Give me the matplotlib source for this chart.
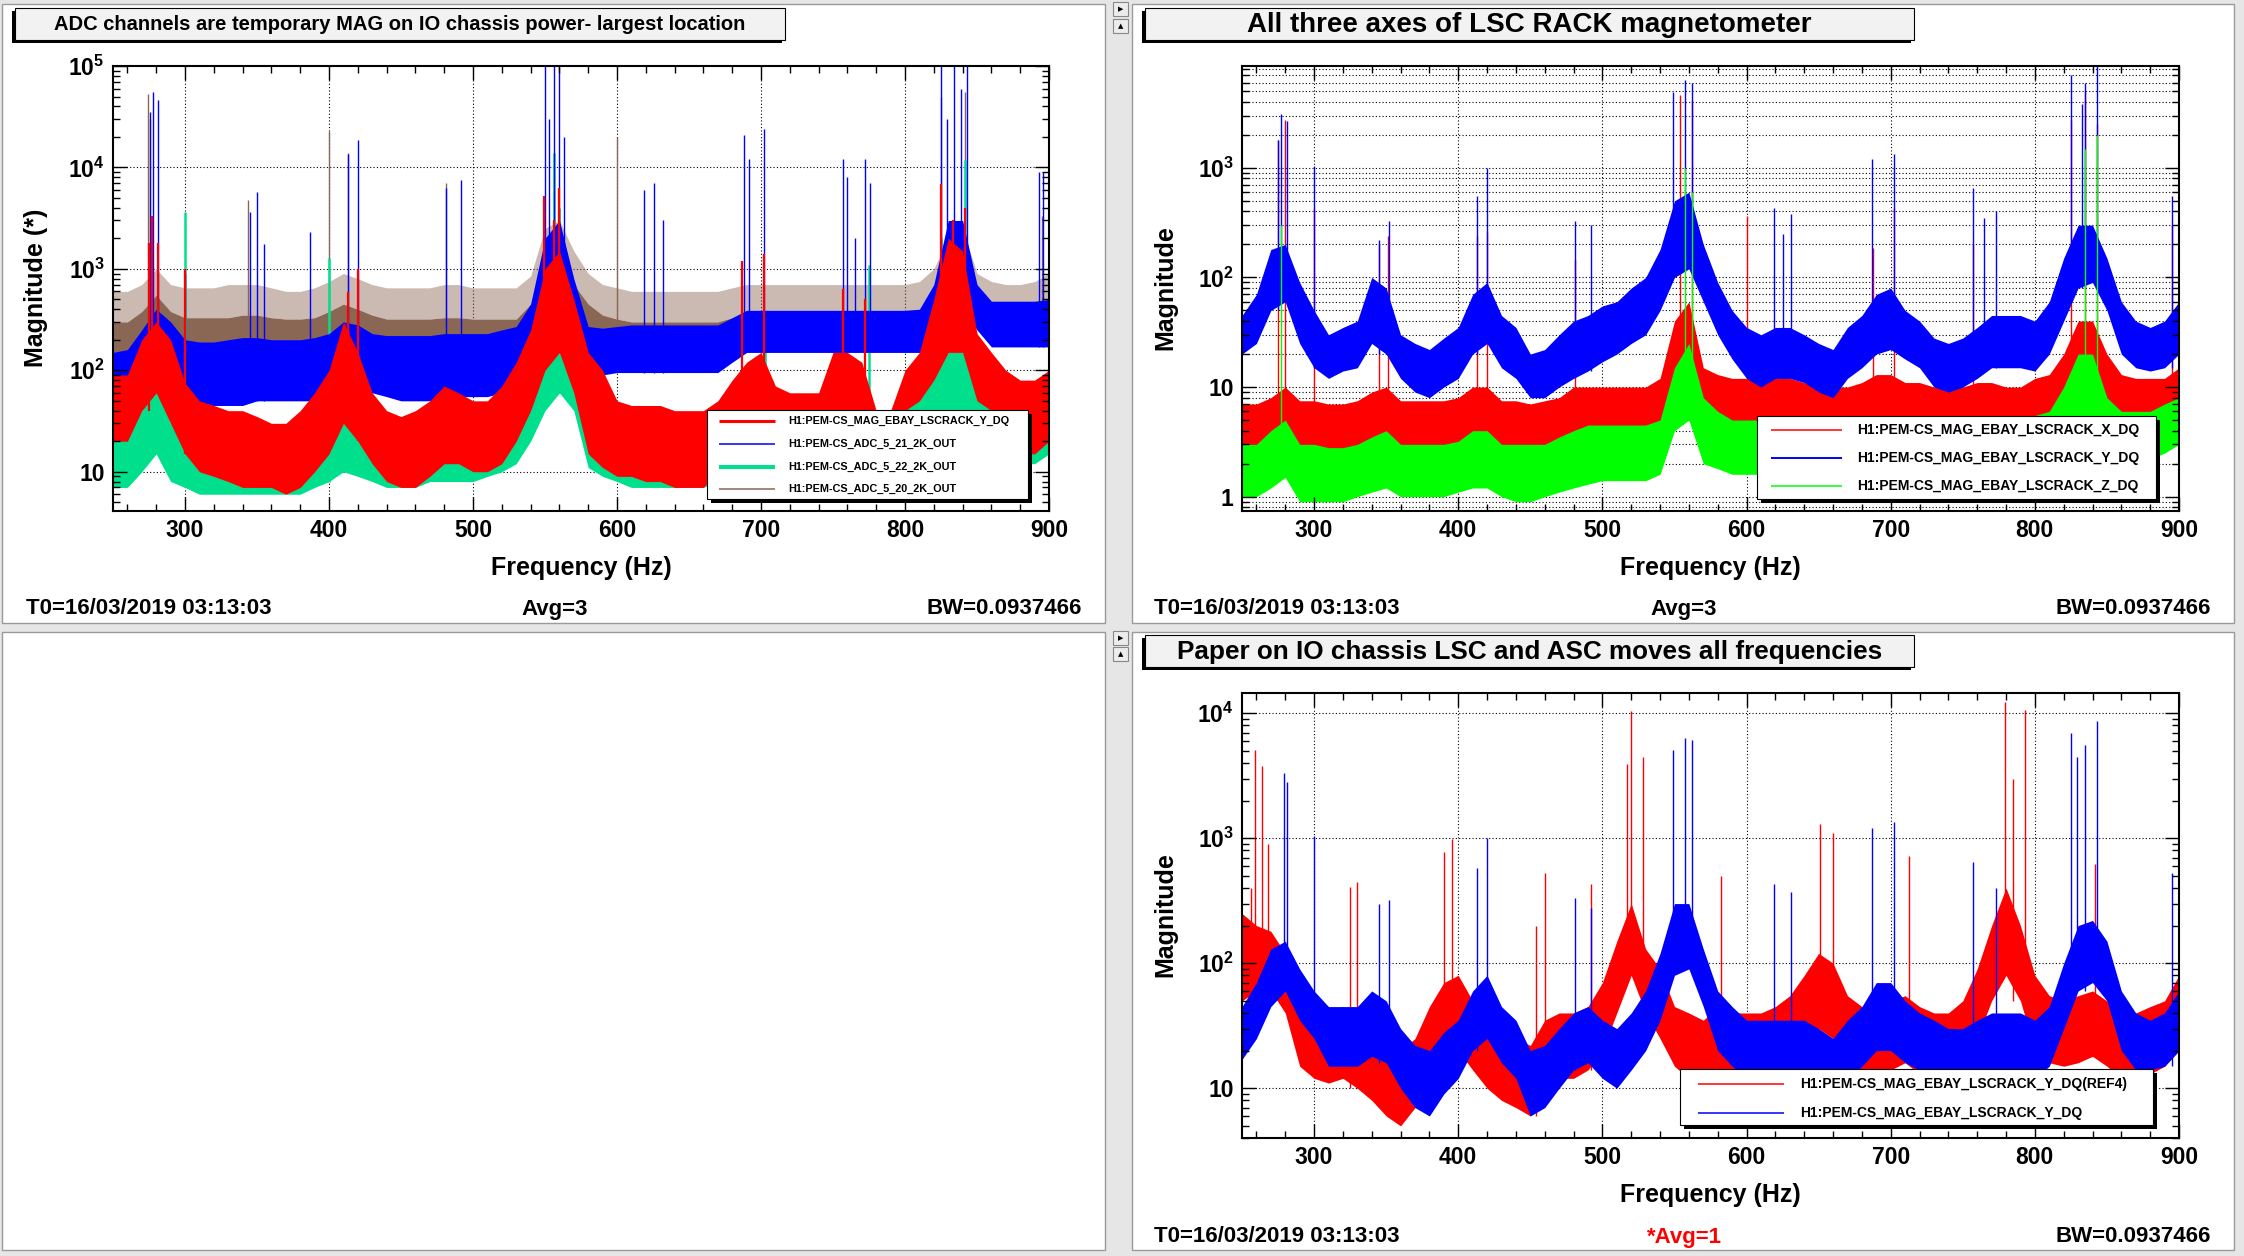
import numpy as np
import matplotlib
matplotlib.use('Agg')
import matplotlib.pyplot as plt
from matplotlib.patches import Rectangle
from matplotlib.ticker import MultipleLocator, LogLocator, NullFormatter

plt.rcParams['font.family'] = ['Liberation Sans', 'DejaVu Sans']
plt.rcParams['font.weight'] = 'bold'
plt.rcParams['mathtext.fontset'] = 'custom'
plt.rcParams['mathtext.rm'] = 'Liberation Sans:bold'
plt.rcParams['mathtext.it'] = 'Liberation Sans:bold'
plt.rcParams['mathtext.bf'] = 'Liberation Sans:bold'

W, H = 2244, 1256

# frequency nodes (Hz), every 10 Hz
freq = list(range(250, 901, 10))

# ---- top-left panel: ADC channels vs LSC rack Y --------------------------------
tl_red_lo = [20, 20, 40, 60, 30, 15, 10, 9, 8, 7,
             7, 7, 6, 7, 10, 15, 30, 20, 12, 8,
             7, 7, 9, 12, 12, 10, 10, 12, 20, 40,
             100, 150, 60, 15, 11, 9, 9, 8, 8, 7,
             7, 7, 10, 20, 25, 25, 20, 12, 12, 12,
             15, 20, 20, 12, 15, 40, 50, 80, 150, 150,
             50, 40, 30, 15, 15, 20]
tl_red_hi = [90, 90, 200, 300, 200, 75, 50, 45, 40, 40,
             35, 30, 30, 40, 60, 100, 300, 150, 60, 40,
             35, 40, 50, 70, 60, 50, 50, 70, 120, 250,
             1000, 1500, 500, 150, 100, 50, 45, 45, 45, 40,
             40, 40, 50, 80, 120, 150, 70, 60, 60, 60,
             150, 150, 120, 40, 40, 100, 150, 500, 2000, 1500,
             230, 150, 100, 80, 80, 100]
tl_blue_lo = [45, 45, 60, 80, 55, 50, 45, 45, 45, 45,
              50, 50, 50, 50, 50, 55, 70, 70, 60, 55,
              50, 50, 50, 50, 55, 55, 55, 60, 70, 90,
              300, 400, 200, 90, 90, 95, 95, 95, 95, 95,
              95, 95, 95, 120, 150, 150, 150, 150, 150, 150,
              150, 150, 150, 150, 150, 150, 150, 200, 400, 400,
              250, 170, 170, 170, 170, 170]
tl_blue_hi = [150, 160, 250, 400, 300, 200, 190, 190, 200, 210,
              210, 200, 200, 200, 210, 230, 300, 280, 230, 220,
              220, 220, 220, 230, 230, 230, 230, 250, 270, 450,
              2000, 3000, 800, 270, 260, 270, 280, 280, 280, 280,
              280, 280, 280, 330, 390, 390, 390, 390, 390, 390,
              390, 390, 390, 390, 390, 390, 400, 700, 3000, 3000,
              700, 480, 480, 480, 480, 500]
tl_green_lo = [7, 7, 10, 15, 8, 7, 6, 6, 6, 6,
               6, 6, 6, 6, 7, 8, 10, 9, 8, 7,
               7, 7, 8, 8, 8, 8, 9, 10, 12, 20,
               40, 60, 40, 11, 9, 8, 7, 7, 7, 7,
               7, 7, 8, 10, 12, 15, 10, 9, 9, 9,
               10, 12, 12, 10, 10, 12, 15, 25, 40, 40,
               35, 20, 15, 12, 12, 15]
tl_green_hi = [24, 24, 40, 80, 30, 25, 22, 22, 22, 25,
               25, 22, 22, 22, 25, 30, 40, 35, 30, 28,
               28, 28, 30, 30, 30, 30, 35, 40, 50, 80,
               150, 250, 200, 50, 45, 45, 40, 35, 35, 35,
               35, 35, 30, 40, 50, 60, 40, 35, 35, 35,
               40, 50, 50, 40, 40, 50, 60, 100, 150, 150,
               100, 80, 60, 50, 50, 60]
tl_brown_lo = [130, 120, 130, 200, 150, 140, 140, 150, 150, 150,
               160, 150, 150, 160, 170, 200, 220, 200, 180, 170,
               170, 160, 160, 170, 170, 160, 160, 170, 180, 250,
               400, 500, 350, 230, 200, 180, 170, 160, 160, 150,
               150, 150, 150, 170, 180, 180, 180, 180, 180, 180,
               180, 180, 180, 180, 180, 180, 180, 250, 350, 400,
               300, 200, 200, 200, 200, 220]
# dense part of the brown trace and the top of its noise spikes
tl_brown_hi = [300, 300, 380, 550, 380, 330, 330, 330, 330, 350,
               350, 330, 320, 320, 330, 380, 450, 400, 350, 320,
               320, 320, 320, 330, 330, 320, 320, 320, 320, 450,
               1200, 1500, 700, 450, 350, 320, 300, 300, 300, 300,
               300, 300, 300, 330, 380, 380, 380, 380, 380, 380,
               380, 380, 380, 380, 380, 380, 400, 550, 1000, 1200,
               500, 420, 400, 400, 420, 500]
tl_brown_top = [600, 600, 700, 1000, 700, 650, 650, 650, 700, 700,
                700, 650, 600, 600, 650, 750, 900, 800, 700, 650,
                650, 650, 650, 700, 700, 650, 650, 650, 650, 850,
                2500, 3000, 1500, 900, 700, 650, 600, 600, 600, 600,
                600, 600, 600, 650, 700, 700, 700, 700, 700, 700,
                700, 700, 700, 700, 700, 700, 750, 1000, 2000, 2500,
                900, 750, 700, 700, 750, 900]

tl_red_pk_f = [275, 277, 281, 300, 413, 420, 549, 556, 560, 687, 702, 757, 772, 825, 833, 842]
tl_red_pk_v = [1800, 3300, 1800, 1000, 590, 1000, 5200, 3000, 6200, 1200, 1400, 640, 500,
               6800, 3000, 4000]
tl_blue_pk_f = [276, 278, 281, 300, 345, 350, 355, 387, 413, 420, 481, 492, 550, 553, 556,
                560, 563, 619, 626, 632, 688, 692, 702, 757, 760, 765, 772, 776, 825, 829,
                834, 839, 843, 893, 896]
tl_blue_pk_v = [3.5e4, 5.5e4, 4.6e4, 900, 3600, 5700, 1750, 2300, 1.35e4, 1.85e4, 6200, 7500,
                1e5, 3e4, 1e5, 1e5, 2e4, 6000, 7000, 3000, 2.1e4, 1.2e4, 2.4e4, 1.2e4, 8000,
                2000, 1.2e4, 7000, 1e5, 3e4, 1e5, 6e4, 1e5, 9000, 9000]
tl_green_pk_f = [277, 300, 400, 556, 560, 703, 775, 825, 842]
tl_green_pk_v = [1500, 3600, 1270, 1.4e4, 4000, 300, 1100, 2000, 1.18e4]
tl_brown_pk_f = [274, 276, 344, 400, 413, 481, 556, 600, 825, 842, 895, 900]
tl_brown_pk_v = [5.3e4, 3e4, 4800, 2.3e4, 1.4e4, 7000, 6000, 2e4, 5e4, 5.5e4, 3300, 1.5e4]

# ---- top-right panel: three axes of LSC rack magnetometer ------------------------
tr_red_lo = [2.7, 2.7, 3, 4, 2.5, 2.5, 2.5, 2.5, 2.5, 3,
             3.5, 2.7, 2.7, 2.7, 2.8, 3, 3.5, 3.5, 2.8, 2.7,
             2.5, 2.7, 3, 3.3, 3.5, 3.5, 3.5, 3.5, 3.5, 4,
             8, 10, 5, 4.5, 4, 4, 4, 4.5, 4.5, 4,
             4, 4, 4, 4.5, 5, 5, 4.5, 4.5, 4, 4,
             4, 4.5, 4.5, 4, 4, 4.5, 5, 6, 10, 10,
             6, 5, 4.5, 4.5, 4.5, 5]
tr_red_hi = [7, 7, 8, 10, 7.5, 7.5, 7, 7, 7.5, 9,
             10, 7.5, 7.5, 7.5, 7.5, 8, 10, 10, 7.5, 7.5,
             7, 7.5, 8, 10, 10, 10, 10, 10, 10, 12,
             40, 60, 15, 13, 12, 12, 12, 13, 12, 11,
             10, 10, 10, 11, 13, 13, 11, 11, 10, 10,
             10, 11, 11, 10, 10, 12, 13, 20, 40, 40,
             20, 13, 12, 12, 12, 15]
tr_blue_lo = [20, 25, 50, 60, 25, 15, 12, 14, 15, 25,
              20, 12, 9, 8, 10, 12, 20, 25, 15, 12,
              8, 8, 10, 12, 14, 17, 20, 25, 30, 50,
              100, 120, 60, 30, 18, 12, 10, 12, 12, 11,
              9, 8, 12, 15, 20, 22, 18, 15, 10, 9,
              10, 12, 15, 15, 15, 14, 20, 40, 80, 90,
              50, 20, 15, 14, 15, 20]
tr_blue_hi = [45, 70, 180, 200, 90, 50, 30, 35, 40, 100,
              80, 30, 25, 22, 28, 35, 70, 90, 45, 35,
              20, 22, 30, 40, 45, 55, 60, 80, 100, 180,
              500, 600, 200, 90, 50, 35, 30, 35, 35, 30,
              25, 22, 35, 45, 70, 80, 50, 40, 28, 25,
              28, 35, 45, 45, 45, 40, 60, 150, 300, 300,
              150, 60, 40, 35, 40, 60]
tr_green_lo = [1.0, 1.0, 1.2, 1.5, 0.9, 0.9, 0.9, 0.9, 1.0, 1.1,
               1.2, 1.0, 1.0, 1.0, 1.0, 1.1, 1.2, 1.2, 1.0, 0.9,
               0.9, 1.0, 1.1, 1.2, 1.3, 1.4, 1.4, 1.4, 1.4, 1.6,
               4, 5, 2, 1.8, 1.6, 1.6, 1.6, 1.7, 1.7, 1.6,
               1.5, 1.5, 1.5, 1.6, 1.8, 1.8, 1.6, 1.6, 1.5, 1.5,
               1.5, 1.6, 1.7, 1.6, 1.6, 1.7, 2, 3, 5, 5,
               3, 2.5, 2.2, 2.2, 2.5, 3]
tr_green_hi = [3, 3, 4, 5, 3, 3, 2.8, 2.8, 3, 3.5,
               4, 3, 3, 3, 3, 3.2, 4, 4, 3, 3,
               3, 3, 3.5, 4, 4.5, 4.5, 4.5, 4.5, 4.5, 5,
               15, 25, 8, 6, 5, 5, 5, 5, 5, 5,
               4.5, 4.5, 4.5, 5, 5.5, 5.5, 5, 5, 4.5, 4.5,
               4.5, 5, 5, 5, 5, 5.5, 6, 10, 20, 20,
               8, 6, 6, 6, 7, 8]

tr_red_pk_f = [275, 280, 300, 345, 351, 413, 420, 481, 554, 562, 600, 688, 702, 757,
               825, 835, 843, 895]
tr_red_pk_v = [1800, 2750, 430, 200, 240, 240, 260, 144, 4600, 4200, 365, 185, 430, 200,
               2750, 4970, 2500, 300]
tr_blue_pk_f = [275, 277, 281, 300, 345, 352, 413, 420, 481, 492, 549, 557, 562, 619, 625,
                631, 687, 702, 757, 765, 773, 825, 833, 835, 843, 895]
tr_blue_pk_v = [1800, 3100, 2700, 1040, 220, 330, 550, 1000, 330, 300, 4900, 6400, 5900, 430,
                250, 380, 1200, 1340, 660, 350, 400, 7000, 3800, 5900, 8500, 550]
tr_green_pk_f = [277, 557, 562, 835, 843]
tr_green_pk_v = [300, 1000, 600, 1500, 2000]

# ---- bottom-right panel: paper on IO chassis (REF4 vs now) -----------------------
br_red_lo = [50, 60, 60, 40, 15, 12, 11, 12, 10, 8,
             6, 5, 7, 12, 18, 20, 14, 10, 8, 7,
             6, 10, 12, 12, 14, 20, 40, 80, 40, 25,
             15, 12, 12, 14, 12, 12, 12, 14, 16, 20,
             30, 25, 15, 12, 12, 14, 16, 13, 12, 12,
             14, 25, 50, 80, 50, 20, 16, 15, 16, 18,
             15, 12, 12, 13, 15, 20]
br_red_hi = [250, 200, 180, 120, 60, 45, 40, 45, 35, 28,
             22, 20, 25, 45, 70, 80, 50, 35, 28, 25,
             22, 35, 40, 40, 45, 70, 150, 300, 130, 90,
             45, 40, 35, 45, 40, 40, 40, 45, 55, 80,
             120, 100, 55, 45, 45, 50, 55, 45, 40, 40,
             50, 90, 200, 400, 200, 80, 55, 50, 55, 60,
             50, 40, 40, 45, 50, 80]
br_blue_lo = [17, 25, 45, 60, 35, 25, 15, 15, 15, 18,
              16, 10, 7, 6, 9, 12, 20, 25, 16, 12,
              6, 7, 10, 14, 16, 12, 10, 14, 20, 35,
              80, 90, 45, 20, 15, 12, 12, 12, 12, 12,
              10, 9, 12, 15, 20, 20, 16, 14, 12, 10,
              10, 12, 14, 14, 14, 12, 15, 30, 60, 70,
              50, 20, 14, 14, 15, 20]
br_blue_hi = [45, 70, 130, 150, 90, 60, 45, 45, 45, 60,
              50, 30, 22, 20, 28, 35, 60, 80, 45, 35,
              20, 22, 30, 40, 45, 35, 30, 40, 60, 120,
              300, 300, 130, 60, 45, 35, 35, 35, 35, 35,
              30, 25, 35, 45, 70, 70, 50, 40, 35, 30,
              30, 35, 40, 40, 40, 35, 45, 100, 200, 220,
              150, 60, 40, 35, 40, 60]

br_red_pk_f = [256, 259, 264, 268, 325, 330, 390, 396, 454, 460, 492, 517, 520, 528, 582,
               651, 660, 713, 779, 785, 793, 842]
br_red_pk_v = [400, 5070, 3800, 900, 410, 450, 770, 980, 200, 530, 430, 3900, 1.04e4, 4500,
               500, 1300, 1100, 720, 1.23e4, 3000, 1.06e4, 620]
br_blue_pk_f = [279, 281, 300, 345, 352, 413, 420, 481, 492, 549, 557, 562, 619, 631, 687,
                702, 757, 773, 825, 829, 835, 843, 895]
br_blue_pk_v = [3300, 2800, 1040, 300, 320, 575, 1000, 330, 275, 5100, 6300, 6100, 430, 370,
                1200, 1360, 640, 400, 7000, 4500, 5600, 8700, 530]

xticks = [300, 400, 500, 600, 700, 800, 900]

RED = '#ff0000'
BLUE = '#0000ff'
MINT = '#00e08c'
LIME = '#00ff00'
BROWN = '#8a6654'

fig = plt.figure(figsize=(W / 100, H / 100), dpi=100)
fig.patch.set_facecolor('#e6e6e6')

# pixel-coordinate layers
bg = fig.add_axes([0, 0, 1, 1], zorder=-1)
bg.set_xlim(0, W); bg.set_ylim(H, 0); bg.axis('off')
fg = fig.add_axes([0, 0, 1, 1], zorder=10)
fg.set_xlim(0, W); fg.set_ylim(H, 0); fg.axis('off')
fg.patch.set_alpha(0)


def px_axes(x0, y0, x1, y1):
    return fig.add_axes([x0 / W, 1 - y1 / H, (x1 - x0) / W, (y1 - y0) / H])


# pads
for (x0, y0, x1, y1) in [(2, 4, 1105, 623), (1132, 4, 2234, 623),
                         (2, 632, 1105, 1250), (1132, 632, 2234, 1250)]:
    bg.add_patch(Rectangle((x0, y0), x1 - x0, y1 - y0, fc='white', ec='#9a9a9a', lw=1))

# little pad buttons in the gutter
for by, glyph in [(2, '\u25B6'), (19, '\u25B2'), (631, '\u25B6'), (647, '\u25B2')]:
    bg.add_patch(Rectangle((1113, by), 15, 14, fc='#ececec', ec='#888888', lw=0.8))
    bg.text(1120.5, by + 7, glyph, ha='center', va='center', fontsize=5, color='black',
            family='DejaVu Sans')


def title_box(x0, y0, x1, y1, text, size):
    bg.add_patch(Rectangle((x0 - 3, y0 + 3), x1 - x0, y1 - y0, fc='black', ec='none'))
    bg.add_patch(Rectangle((x0, y0), x1 - x0, y1 - y0, fc='#f2f2f2', ec='black', lw=0.8))
    bg.text((x0 + x1) / 2, (y0 + y1) / 2 + 1, text, ha='center', va='center',
            fontsize=size, fontweight='bold')


def legend_box(x0, y0, x1, y1, lx0, lx1, tx, rows, size):
    fg.add_patch(Rectangle((x0 + 4, y0 + 4), x1 - x0, y1 - y0, fc='black', ec='none'))
    fg.add_patch(Rectangle((x0, y0), x1 - x0, y1 - y0, fc='white', ec='black', lw=0.8))
    for ly, color, lw, label in rows:
        fg.plot([lx0, lx1], [ly, ly], color=color, lw=lw, solid_capstyle='butt')
        fg.text(tx, ly, label, ha='left', va='center', fontsize=size, fontweight='bold')


def info_line(xl, xc, xr, y, avg, avg_color='black'):
    bg.text(xl, y, 'T0=16/03/2019 03:13:03', ha='left', va='center', fontsize=16)
    bg.text(xc, y, avg, ha='center', va='center', fontsize=16, color=avg_color)
    bg.text(xr, y, 'BW=0.0937466', ha='right', va='center', fontsize=16)


def setup(ax, ylim, yt, ylab, minor_grid):
    ax.set_yscale('log')
    ax.set_xlim(250, 900)
    ax.set_ylim(*ylim)
    ax.set_xticks(xticks, [str(t) for t in xticks])
    ax.xaxis.set_minor_locator(MultipleLocator(20))
    ax.set_yticks(yt, ylab)
    ax.yaxis.set_minor_locator(LogLocator(base=10, subs=np.arange(2, 10), numticks=30))
    ax.yaxis.set_minor_formatter(NullFormatter())
    ax.tick_params(which='both', direction='in', top=True, right=True, width=1.0,
                   labelsize=16.5)
    ax.tick_params(which='major', length=10, pad=6)
    ax.tick_params(which='minor', length=5)
    for s in ax.spines.values():
        s.set_linewidth(1.5)
        s.set_zorder(10)
    grid_kw = dict(color='black', lw=0.8, ls=(0, (1, 2)), zorder=0.5)
    for x in xticks[:-1]:
        ax.axvline(x, **grid_kw)
    for y in yt:
        if ylim[0] < y < ylim[1]:
            ax.axhline(y, **grid_kw)
    if minor_grid:
        for y in ax.yaxis.get_minorticklocs():
            if ylim[0] < y < ylim[1]:
                ax.axhline(y, **grid_kw)


def draw(ax, lo, hi, pk_f, pk_v, color, lw, z):
    ax.fill_between(freq, lo, hi, color=color, lw=0, zorder=z)
    idx = [int(round((f - freq[0]) / 10)) for f in pk_f]
    base = [lo[i] for i in idx]
    ax.vlines(pk_f, base, pk_v, color=color, lw=lw, zorder=z)


# ---- top-left -----------------------------------------------------------------
title_box(15, 8, 785, 40, 'ADC channels are temporary MAG on IO chassis power- largest location', 14.5)
ax1 = px_axes(113, 66, 1049, 511)
setup(ax1, (4.1, 1e5), [10, 1e2, 1e3, 1e4, 1e5],
      ['10', '$10^{2}$', '$10^{3}$', '$10^{4}$', '$10^{5}$'], False)
# sparse noise spikes above the dense brown part
ax1.fill_between(freq, tl_brown_hi, tl_brown_top, color=BROWN, alpha=0.45, lw=0, zorder=1.05)
draw(ax1, tl_brown_lo, tl_brown_hi, tl_brown_pk_f, tl_brown_pk_v, BROWN, 1.0, 1.1)
draw(ax1, tl_green_lo, tl_green_hi, tl_green_pk_f, tl_green_pk_v, MINT, 1.8, 1.2)
draw(ax1, tl_blue_lo, tl_blue_hi, tl_blue_pk_f, tl_blue_pk_v, BLUE, 1.0, 1.3)
draw(ax1, tl_red_lo, tl_red_hi, tl_red_pk_f, tl_red_pk_v, RED, 1.6, 1.4)
bg.text(36, 288, 'Magnitude (*)', rotation=90, ha='center', va='center', fontsize=18)
bg.text(581, 568, 'Frequency (Hz)', ha='center', va='center', fontsize=18)
legend_box(707, 410, 1028, 499, 719, 775, 788,
           [(421, RED, 2.2, 'H1:PEM-CS_MAG_EBAY_LSCRACK_Y_DQ'),
            (444, BLUE, 1.1, 'H1:PEM-CS_ADC_5_21_2K_OUT'),
            (467, MINT, 2.9, 'H1:PEM-CS_ADC_5_22_2K_OUT'),
            (489, BROWN, 1.1, 'H1:PEM-CS_ADC_5_20_2K_OUT')], 7.8)
info_line(26, 555, 1082, 609, 'Avg=3')

# ---- top-right ----------------------------------------------------------------
title_box(1145, 8, 1914, 40, 'All three axes of LSC RACK magnetometer', 20)
ax2 = px_axes(1242, 66, 2179, 511)
setup(ax2, (0.74, 8500), [1, 10, 1e2, 1e3], ['1', '10', '$10^{2}$', '$10^{3}$'], True)
draw(ax2, tr_red_lo, tr_red_hi, tr_red_pk_f, tr_red_pk_v, RED, 1.0, 1.1)
draw(ax2, tr_blue_lo, tr_blue_hi, tr_blue_pk_f, tr_blue_pk_v, BLUE, 1.0, 1.2)
draw(ax2, tr_green_lo, tr_green_hi, tr_green_pk_f, tr_green_pk_v, LIME, 1.0, 1.3)
bg.text(1165, 288, 'Magnitude', rotation=90, ha='center', va='center', fontsize=18)
bg.text(1710, 568, 'Frequency (Hz)', ha='center', va='center', fontsize=18)
legend_box(1757, 416, 2156, 499, 1771, 1842, 1857,
           [(430, RED, 1.1, 'H1:PEM-CS_MAG_EBAY_LSCRACK_X_DQ'),
            (458, BLUE, 1.4, 'H1:PEM-CS_MAG_EBAY_LSCRACK_Y_DQ'),
            (486, LIME, 1.1, 'H1:PEM-CS_MAG_EBAY_LSCRACK_Z_DQ')], 10)
info_line(1154, 1684, 2211, 609, 'Avg=3')

# ---- bottom-right -------------------------------------------------------------
title_box(1145, 635, 1914, 667, 'Paper on IO chassis LSC and ASC moves all frequencies', 18.8)
ax3 = px_axes(1242, 693, 2179, 1138)
setup(ax3, (4.0, 1.45e4), [10, 1e2, 1e3, 1e4], ['10', '$10^{2}$', '$10^{3}$', '$10^{4}$'], False)
draw(ax3, br_red_lo, br_red_hi, br_red_pk_f, br_red_pk_v, RED, 1.0, 1.1)
draw(ax3, br_blue_lo, br_blue_hi, br_blue_pk_f, br_blue_pk_v, BLUE, 1.0, 1.2)
bg.text(1165, 915, 'Magnitude', rotation=90, ha='center', va='center', fontsize=18)
bg.text(1710, 1195, 'Frequency (Hz)', ha='center', va='center', fontsize=18)
legend_box(1680, 1069, 2153, 1125, 1698, 1784, 1800,
           [(1084, RED, 1.1, 'H1:PEM-CS_MAG_EBAY_LSCRACK_Y_DQ(REF4)'),
            (1113, BLUE, 1.1, 'H1:PEM-CS_MAG_EBAY_LSCRACK_Y_DQ')], 10)
info_line(1154, 1684, 2211, 1237, '*Avg=1', RED)

fig.savefig('out.png', dpi=100, facecolor=fig.get_facecolor())
